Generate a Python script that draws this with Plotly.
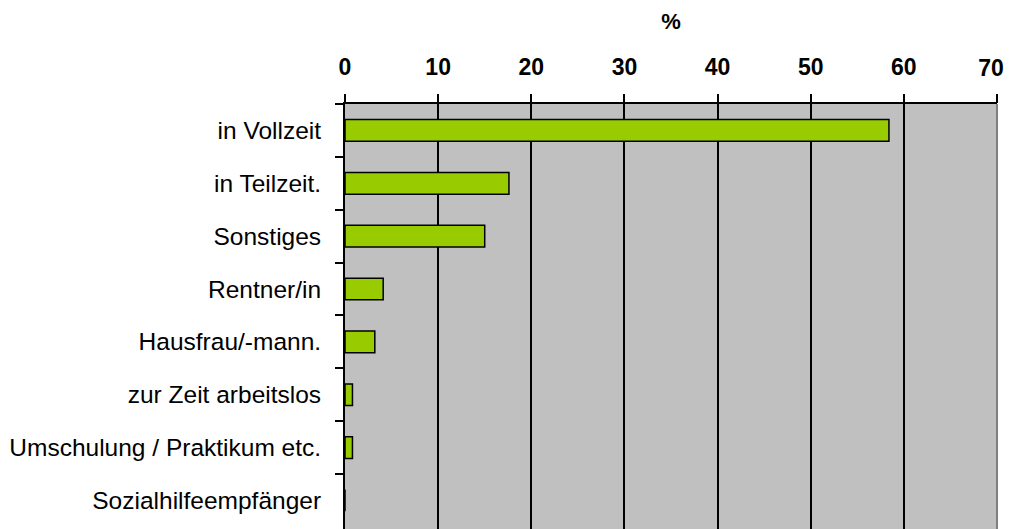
import plotly.graph_objects as go

categories = [
    "in Vollzeit",
    "in Teilzeit.",
    "Sonstiges",
    "Rentner/in",
    "Hausfrau/-mann.",
    "zur Zeit arbeitslos",
    "Umschulung / Praktikum etc.",
    "Sozialhilfeempfänger",
]
values = [58.4, 17.6, 15.0, 4.1, 3.2, 0.8, 0.8, 0.0]
tick_values = [0, 10, 20, 30, 40, 50, 60, 70]
tick_labels = ["0", "10", "20", "30", "40", "50", "60", "70"]

fig = go.Figure(
    go.Bar(
        x=values,
        y=categories,
        orientation="h",
        width=0.41,
        marker=dict(color="#99CC00", line=dict(color="#000000", width=1.5)),
    )
)

fig.update_layout(
    width=1005,
    height=521,
    margin=dict(l=337, r=16, t=96, b=0),
    paper_bgcolor="#FFFFFF",
    plot_bgcolor="#C0C0C0",
    showlegend=False,
    font=dict(family="Liberation Sans, Arial, sans-serif", color="#000000"),
)

tick_font = dict(size=23, family="Liberation Sans, Arial, sans-serif", color="#000000", weight="bold")

# main axis: all labels except the last one (drawn on an overlay axis shifted slightly left)
fig.update_xaxes(
    side="top",
    range=[tick_values[0], tick_values[-1]],
    tickvals=tick_values,
    ticktext=tick_labels[:-1] + [""],
    ticks="outside",
    ticklen=8,
    tickwidth=1.5,
    tickcolor="#000000",
    showline=True,
    linecolor="#000000",
    linewidth=2,
    showgrid=True,
    gridcolor="#000000",
    gridwidth=1.5,
    zeroline=False,
    tickfont=tick_font,
    ticklabelstandoff=10,
    title=dict(text="<b>%</b>", font=dict(size=22), standoff=18),
    fixedrange=True,
)

fig.update_layout(
    xaxis2=dict(
        overlaying="x",
        matches="x",
        side="top",
        anchor="y",
        range=[tick_values[0], tick_values[-1]],
        tickvals=tick_values[-1:],
        ticktext=tick_labels[-1:],
        ticks="outside",
        ticklen=8,
        tickwidth=1.5,
        tickcolor="#000000",
        showline=False,
        showgrid=False,
        zeroline=False,
        tickfont=tick_font,
        ticklabelstandoff=10,
        ticklabelshift=-6,
        fixedrange=True,
    )
)
fig.add_trace(
    go.Scatter(x=[tick_values[-1]], y=[categories[0]], xaxis="x2", yaxis="y",
               mode="markers", marker=dict(opacity=0), hoverinfo="skip", showlegend=False)
)

fig.update_yaxes(
    categoryorder="array",
    categoryarray=categories,
    autorange=False,
    range=[7.54, -0.5],
    ticks="outside",
    tickson="boundaries",
    ticklen=8,
    tickwidth=1.5,
    tickcolor="#000000",
    showline=True,
    linecolor="#000000",
    linewidth=2,
    showgrid=False,
    tickfont=dict(size=24.5, family="Liberation Sans, Arial, sans-serif", color="#000000"),
    ticklabelstandoff=17,
    fixedrange=True,
)

fig.add_shape(
    type="line",
    xref="paper",
    yref="paper",
    x0=1,
    x1=1,
    y0=0,
    y1=1,
    line=dict(color="#808080", width=2),
    layer="above",
)

fig.write_html("out.html")
